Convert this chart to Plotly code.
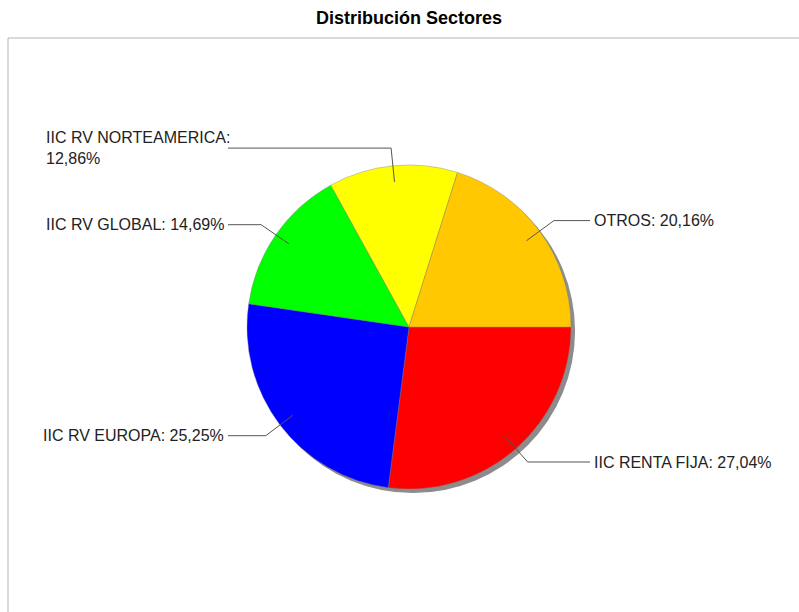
import math
import plotly.graph_objects as go

# Data
labels = ["IIC RENTA FIJA", "IIC RV EUROPA", "IIC RV GLOBAL", "IIC RV NORTEAMERICA", "OTROS"]
values = [27.04, 25.25, 14.69, 12.86, 20.16]
colors = ["#FF0000", "#0000FF", "#00FF00", "#FFFF00", "#FFC800"]
title_text = "Distribución Sectores"

W, H = 799, 612
CX, CY, R = 409, 327, 162
SH = 4  # shadow offset
FONT = "Liberation Sans, Arial"

def dom(cx, cy, r):
    return dict(x=[(cx - r) / W, (cx + r) / W], y=[1 - (cy + r) / H, 1 - (cy - r) / H])

fig = go.Figure()
# shadow
fig.add_trace(go.Pie(values=[1], marker=dict(colors=["#8c8c8c"], line=dict(width=0)),
                     textinfo="none", hoverinfo="skip", showlegend=False,
                     domain=dom(CX + SH, CY + SH, R), sort=False))
# main pie
fig.add_trace(go.Pie(labels=labels, values=values, marker=dict(colors=colors, line=dict(width=0.4, color="#7f7f7f")),
                     textinfo="none", sort=False, direction="clockwise", rotation=90,
                     showlegend=False, domain=dom(CX, CY, R)))

# leader lines and labels computed from data
total = sum(values)
shapes = [dict(type="rect", xref="x", yref="y", x0=8, y0=38, x1=805, y1=620,
               line=dict(color="#b4b4b4", width=1), fillcolor="rgba(0,0,0,0)", layer="below")]
annotations = []
cum = 0.0
for lab, v in zip(labels, values):
    mid = (cum + v / 2) / total * 2 * math.pi  # clockwise from 3 o'clock
    cum += v
    c, s = math.cos(mid), math.sin(mid)
    x0, y0 = CX + 0.9 * R * c, CY + 0.9 * R * s
    x1, y1 = CX + 1.11 * R * c, CY + 1.11 * R * s
    right = c >= 0
    x2 = 590 if right else 228
    shapes.append(dict(type="path", xref="x", yref="y",
                       path=f"M{x0:.1f},{y0:.1f} L{x1:.1f},{y1:.1f} L{x2},{y1:.1f}",
                       line=dict(color="#555555", width=1)))
    pct = f"{v:.2f}".replace(".", ",") + "%"
    txt = f"{lab}: {pct}"
    if lab == "IIC RV NORTEAMERICA":
        txt = f"{lab}:<br>{pct}"
        annotations.append(dict(x=44, y=y1, xref="x", yref="y", text=txt, showarrow=False,
                                xanchor="left", yanchor="middle", align="left",
                                font=dict(family=FONT, size=16, color="#222222")))
    else:
        annotations.append(dict(x=x2 + (2 if right else -2), y=y1, xref="x", yref="y", text=txt,
                                showarrow=False, xanchor="left" if right else "right", yanchor="middle",
                                font=dict(family=FONT, size=16, color="#222222")))

annotations.append(dict(x=409, y=18, xref="x", yref="y", text=f"<b>{title_text}</b>", showarrow=False,
                        xanchor="center", yanchor="middle",
                        font=dict(family=FONT, size=18, color="#000000")))

fig.update_layout(
    width=W, height=H, margin=dict(l=0, r=0, t=0, b=0),
    paper_bgcolor="white", plot_bgcolor="rgba(0,0,0,0)",
    xaxis=dict(range=[0, W], visible=False, fixedrange=True, domain=[0, 1]),
    yaxis=dict(range=[H, 0], visible=False, fixedrange=True, domain=[0, 1]),
    shapes=shapes, annotations=annotations, showlegend=False,
)
fig.write_html("out.html")
